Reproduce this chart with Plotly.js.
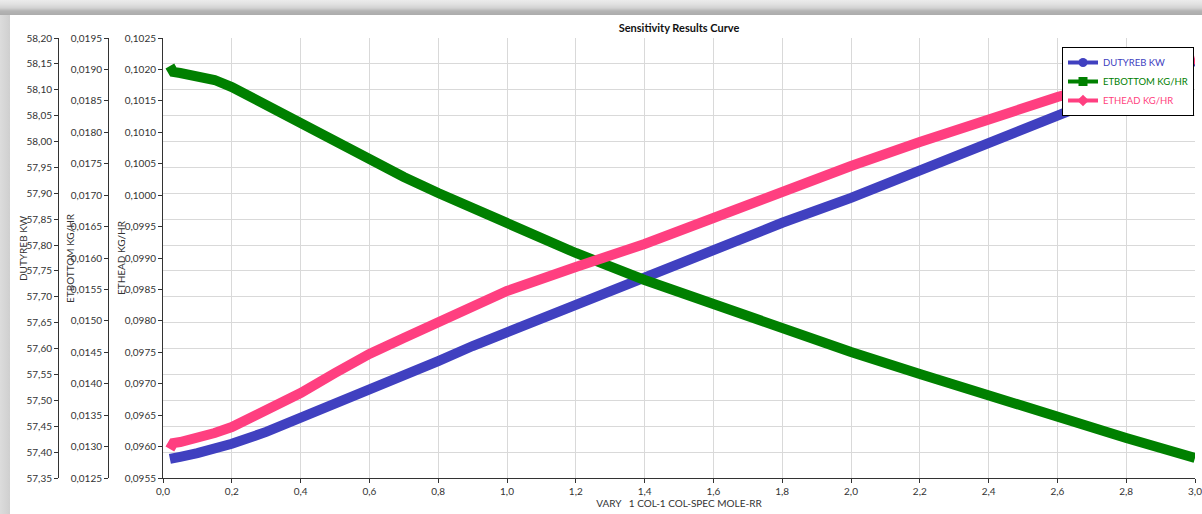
<!DOCTYPE html>
<html>
<head>
<meta charset="utf-8">
<script src="https://cdn.plot.ly/plotly-3.0.1.min.js"></script>
<style>
  html, body { margin:0; padding:0; width:1202px; height:514px; overflow:hidden; }
  body { background: linear-gradient(to right, #dcdcdc 0px, #cfcfcf 10px); position:relative; }
  #topband { position:absolute; left:0; top:0; width:1202px; height:15px;
    background: linear-gradient(to bottom, #ececec 0px, #e2e2e2 4px, #d2d2d2 8px, #b4b4b4 11px, #acacac 15px); }
  #frame { position:absolute; left:10px; top:15px; width:1192px; height:499px; background:#ffffff; }
  #chart { position:absolute; left:0; top:0; width:1202px; height:514px; }
</style>
</head>
<body>
<div id="topband"></div>
<div id="frame"></div>
<div id="chart"></div>
<script>
// Reflux ratio (x axis)
const refluxRatio = [0.02, 0.03, 0.05, 0.1, 0.15, 0.2, 0.3, 0.4, 0.5, 0.6, 0.7, 0.8, 0.9, 1.0,
                     1.2, 1.4, 1.6, 1.8, 2.0, 2.2, 2.4, 2.6, 2.8, 3.0];
// DUTYREB KW
const dutyReb = [57.387, 57.389, 57.391, 57.398, 57.406, 57.416, 57.439, 57.466, 57.491, 57.518,
                 57.547, 57.576, 57.605, 57.632, 57.684, 57.736, 57.789, 57.843, 57.891, 57.943,
                 57.997, 58.051, 58.103, 58.156];
// ETBOTTOM KG/HR
const etBottom = [0.019055, 0.018959, 0.018943, 0.018895, 0.018832, 0.018720, 0.018434, 0.018132,
                  0.017830, 0.017559, 0.017289, 0.017034, 0.016795, 0.016557, 0.016080, 0.015650,
                  0.015268, 0.014870, 0.014505, 0.014155, 0.013805, 0.013455, 0.013136, 0.012818];
// ETHEAD KG/HR
const etHead = [0.095961, 0.096057, 0.096073, 0.096136, 0.096216, 0.096311, 0.096582, 0.096852,
                0.097170, 0.097473, 0.097727, 0.097982, 0.098236, 0.098475, 0.098857, 0.099223,
                0.099636, 0.100066, 0.100464, 0.100845, 0.101211, 0.101561, 0.101864, 0.102166];

const seriesNames = ['DUTYREB KW', 'ETBOTTOM KG/HR', 'ETHEAD KG/HR'];
const seriesColors = ['#4040c0', '#008000', '#ff3f80'];
const seriesSymbols = ['circle', 'square', 'diamond'];
const xTitle = 'VARY\u00a0\u00a0 1 COL-1 COL-SPEC MOLE-RR';

const W = 1202, H = 514;
const plotL = 163, plotR = 1195, plotT = 38, plotB = 478;
const FONT = 'Lato, "Open Sans", sans-serif';
const txt = '#333333';
const yaxisIds = ['y', 'y2', 'y3'];
const seriesValues = [dutyReb, etBottom, etHead];

const data = [];
// data curves (thick bands like the dense marker trail of the original)
seriesValues.forEach(function (vals, i) {
  data.push({
    x: refluxRatio, y: vals, type: 'scatter', mode: 'lines', yaxis: yaxisIds[i],
    name: seriesNames[i], showlegend: false,
    line: {color: seriesColors[i], width: 10},
    hoverinfo: 'skip', cliponaxis: false
  });
});
// legend entries (line + symbol)
seriesValues.forEach(function (vals, i) {
  data.push({
    x: [null], y: [null], type: 'scatter', mode: 'lines+markers', yaxis: yaxisIds[i],
    name: '<span style="color:' + seriesColors[i] + '">' + seriesNames[i] + '</span>',
    showlegend: true,
    line: {color: seriesColors[i], width: 4},
    marker: {color: seriesColors[i], size: 9, symbol: seriesSymbols[i]},
    hoverinfo: 'skip'
  });
});

const yCommon = {
  showline: true, linecolor: txt, linewidth: 1, ticks: 'outside', ticklen: 4, tickcolor: txt,
  tickfont: {family: FONT, size: 10, color: txt}, zeroline: false, automargin: false,
  ticklabeloverflow: 'allow',
  domain: [(H - plotB) / H, (H - plotT) / H]
};

function yTitle(text, px, pyCenter) {
  return {text: text, xref: 'paper', yref: 'paper', x: px / W, y: (H - pyCenter) / H,
          xanchor: 'center', yanchor: 'middle', textangle: -90, showarrow: false,
          font: {family: FONT, size: 10, color: txt}};
}

const layout = {
  width: W, height: H, autosize: false,
  margin: {l: 0, r: 0, t: 0, b: 0, pad: 0},
  paper_bgcolor: 'rgba(0,0,0,0)', plot_bgcolor: 'rgba(0,0,0,0)',
  separators: ', ',
  font: {family: FONT, size: 10, color: txt},
  showlegend: true,
  title: {text: '<b>Sensitivity Results Curve</b>', font: {family: FONT, size: 11, color: '#111'},
          x: ((plotL + plotR) / 2) / W, xanchor: 'center', xref: 'paper',
          y: (H - 28) / H, yanchor: 'middle', yref: 'paper'},
  xaxis: {
    domain: [plotL / W, plotR / W], range: [0, 3], tick0: 0, dtick: 0.2, tickformat: '.1f',
    showline: true, linecolor: txt, linewidth: 1, ticks: 'outside', ticklen: 4, tickcolor: txt,
    showgrid: true, gridcolor: '#d9d9d9', gridwidth: 1, zeroline: false, automargin: false,
    ticklabeloverflow: 'allow',
    tickfont: {family: FONT, size: 10, color: txt},
    title: {text: xTitle, font: {family: FONT, size: 10, color: txt}, standoff: 2}
  },
  yaxis: Object.assign({}, yCommon, {
    anchor: 'free', position: 58 / W, side: 'left',
    range: [57.35, 58.2], tick0: 57.35, dtick: 0.05, tickformat: '.2f',
    showgrid: true, gridcolor: '#d9d9d9', gridwidth: 1
  }),
  yaxis2: Object.assign({}, yCommon, {
    anchor: 'free', position: 108 / W, side: 'left', overlaying: 'y',
    range: [0.0125, 0.0195], tick0: 0.0125, dtick: 0.0005, tickformat: '.4f', showgrid: false
  }),
  yaxis3: Object.assign({}, yCommon, {
    anchor: 'x', side: 'left', overlaying: 'y',
    range: [0.0955, 0.1025], tick0: 0.0955, dtick: 0.0005, tickformat: '.4f', showgrid: false
  }),
  annotations: [
    yTitle(seriesNames[0], 23, 248),
    yTitle(seriesNames[1], 70, 258),
    yTitle(seriesNames[2], 121, 257)
  ],
  legend: {
    x: 1194 / W, xanchor: 'right', y: (H - 47) / H, yanchor: 'top',
    bgcolor: '#ffffff', bordercolor: '#000000', borderwidth: 1,
    font: {family: FONT, size: 9.5}, itemsizing: 'trace', tracegroupgap: 0
  }
};

Plotly.newPlot('chart', data, layout, {staticPlot: true, displayModeBar: false});
</script>
</body>
</html>
